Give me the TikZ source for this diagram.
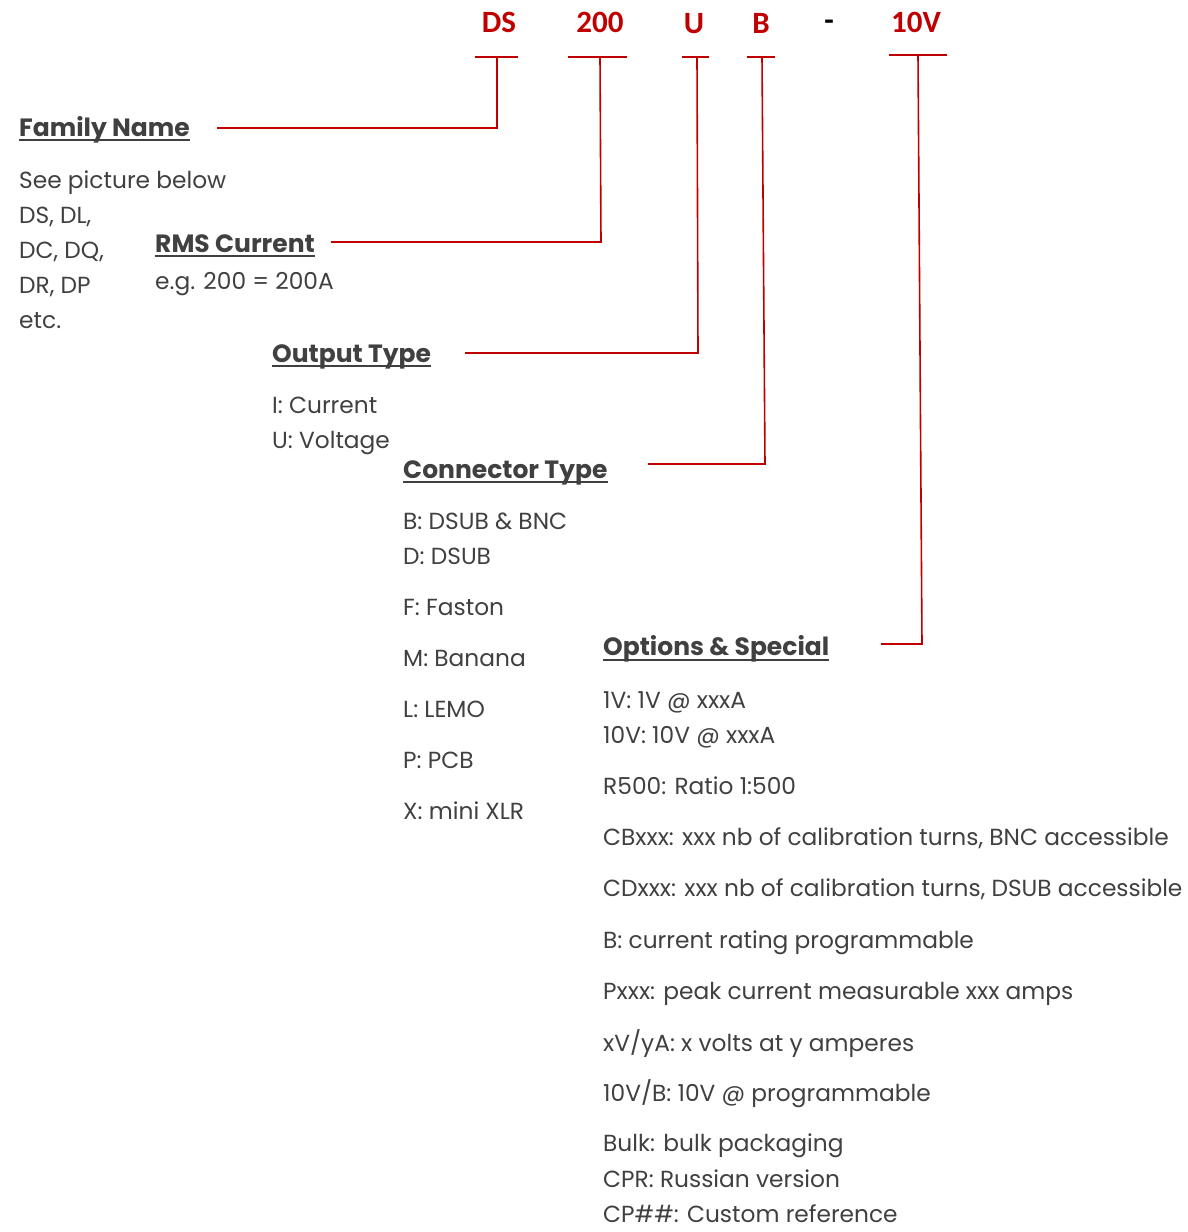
\documentclass[tikz,border=0pt]{standalone}
\usepackage{fontspec}
\setmainfont{Poppins}
\newfontfamily\calib{Carlito}
\definecolor{pnred}{HTML}{C00000}
\definecolor{txtgrey}{HTML}{404040}
\begin{document}
\begin{tikzpicture}[x=1pt,y=-1pt,
  code/.style={font=\calib\bfseries\fontsize{31}{34}\selectfont, text=pnred, inner sep=0pt, anchor=base},
  bar/.style={draw=pnred, line width=2pt},
  conn/.style={draw=pnred, line width=1.6pt},
  head/.style={font=\bfseries\fontsize{25}{28}\selectfont, text=txtgrey, inner sep=0pt, anchor=base west},
  body/.style={font=\fontsize{23.3}{27}\selectfont, text=txtgrey, inner sep=0pt, anchor=base west},
  uline/.style={draw=txtgrey, line width=2pt}]
\useasboundingbox (0,0) rectangle (1188,1232);
% code letters
\node[code] (lDS) at (499,32) {DS};
\node[code] (l200) at (600,32) {200};
\node[code] (lU) at (694,33) {U};
\node[code] (lB) at (761,33) {B};
\node[code, text=black] (ldash) at (829,30) {-};
\node[code] (l10V) at (916,32) {10V};
% tee bars
\coordinate (bDSl) at (475,57); \coordinate (bDSr) at (518,57); \coordinate (bDS) at (497,57);
\coordinate (b200l) at (568,57); \coordinate (b200r) at (627,57); \coordinate (b200) at (600,57);
\coordinate (bUl) at (682,57); \coordinate (bUr) at (709,57); \coordinate (bU) at (697,57);
\coordinate (bBl) at (747,57); \coordinate (bBr) at (775,57); \coordinate (bB) at (762,57);
\coordinate (b10l) at (889,55); \coordinate (b10r) at (947,55); \coordinate (b10) at (918,55);
\draw[bar] (bDSl) -- (bDSr);
\draw[bar] (b200l) -- (b200r);
\draw[bar] (bUl) -- (bUr);
\draw[bar] (bBl) -- (bBr);
\draw[bar] (b10l) -- (b10r);
% corner and end points
\coordinate (cDS) at (497,128); \coordinate (eDS) at (217,128);
\coordinate (c200) at (601,242); \coordinate (e200) at (331,242);
\coordinate (cU) at (698,353); \coordinate (eU) at (465,353);
\coordinate (cB) at (765,464); \coordinate (eB) at (648,464);
\coordinate (c10) at (922,644); \coordinate (e10) at (881,644);
\draw[conn] (bDS) -- (cDS) -- (eDS);
\draw[conn] (b200) -- (c200) -- (e200);
\draw[conn] (bU) -- (cU) -- (eU);
\draw[conn] (bB) -- (cB) -- (eB);
\draw[conn] (b10) -- (c10) -- (e10);
% headers
\node[head] (hFam) at (19,136) {Family Name};
\node[head] (hRMS) at (155,252) {RMS Current};
\node[head] (hOut) at (272,362) {Output Type};
\node[head] (hCon) at (403,478) {Connector Type};
\node[head] (hOpt) at (603,655) {Options \& Special};
\foreach \h/\y in {hFam/140, hRMS/256, hOut/366, hCon/482, hOpt/660}
  \draw[uline] (\h.west |- 0,\y) -- (\h.east |- 0,\y);
% family body
\node[body] (f1) at (19,188) {See picture below};
\node[body] (f2) at (19,223) {DS, DL,};
\node[body] (f3) at (19,258) {DC, DQ,};
\node[body] (f4) at (19,293) {DR, DP};
\node[body] (f5) at (19,328) {etc.};
% rms body
\node[body] (r1) at (155,289) {e.g. 200 = 200A};
% output body
\node[body] (o1) at (272,413) {I: Current};
\node[body] (o2) at (272,448) {U: Voltage};
% connector body
\node[body] (k1) at (403,529) {B: DSUB \& BNC};
\node[body] (k2) at (403,564) {D: DSUB};
\node[body] (k3) at (403,615) {F: Faston};
\node[body] (k4) at (403,666) {M: Banana};
\node[body] (k5) at (403,717) {L: LEMO};
\node[body] (k6) at (403,768) {P: PCB};
\node[body] (k7) at (403,819) {X: mini XLR};
% options body
\node[body] (p1) at (603,708) {1V: 1V @ xxxA};
\node[body] (p2) at (603,743) {10V: 10V @ xxxA};
\node[body] (p3) at (603,794) {R500: Ratio 1:500};
\node[body] (p4) at (603,845) {CBxxx: xxx nb of calibration turns, BNC accessible};
\node[body] (p5) at (603,896) {CDxxx: xxx nb of calibration turns, DSUB accessible};
\node[body] (p6) at (603,948) {B: current rating programmable};
\node[body] (p7) at (603,999) {Pxxx: peak current measurable xxx amps};
\node[body] (p8) at (603,1051) {xV/yA: x volts at y amperes};
\node[body] (p9) at (603,1101) {10V/B: 10V @ programmable};
\node[body] (p10) at (603,1151) {Bulk: bulk packaging};
\node[body] (p11) at (603,1187) {CPR: Russian version};
\node[body] (p12) at (603,1222) {CP\#\#: Custom reference};
\end{tikzpicture}
\end{document}
